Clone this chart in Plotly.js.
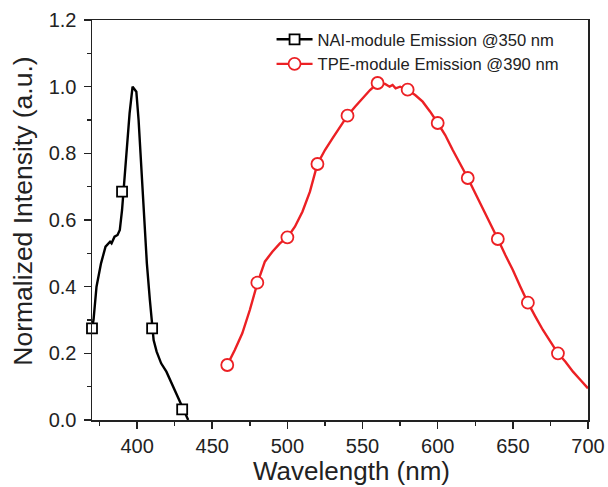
<!DOCTYPE html>
<html>
<head>
<meta charset="utf-8">
<script src="https://cdn.plot.ly/plotly-3.0.1.min.js"></script>
<style>html,body{margin:0;padding:0;background:#fff;}#chart{width:608px;height:487px;}</style>
</head>
<body>
<div id="chart"></div>
<script>
// NAI-module emission (excited @350 nm)
const naiWavelength = [370, 371, 373, 376, 379, 382, 383, 385, 387, 388.5, 390, 391, 393, 395, 397, 398, 399.5, 401, 403, 405, 406.5, 408.5, 410, 411, 413, 416, 419.5, 422, 424, 426, 427.5, 429, 430, 431.5, 433, 434];
const naiIntensity  = [0.275, 0.30, 0.40, 0.47, 0.52, 0.535, 0.53, 0.55, 0.555, 0.57, 0.63, 0.685, 0.80, 0.92, 1.0, 0.995, 0.985, 0.90, 0.75, 0.58, 0.47, 0.36, 0.275, 0.24, 0.205, 0.17, 0.145, 0.12, 0.10, 0.08, 0.065, 0.05, 0.035, 0.02, 0.008, 0.0];
const naiMarkerWl = [370, 390, 410, 430];
const naiMarkerInt = [0.275, 0.685, 0.275, 0.032];

// TPE-module emission (excited @390 nm)
const tpeWavelength = [460, 465, 470, 475, 480, 485, 490, 495, 500, 505, 510, 515, 520, 525, 530, 535, 540, 545, 550, 555, 560, 565, 568, 570, 572, 575, 580, 585, 590, 595, 600, 605, 610, 615, 620, 625, 630, 635, 640, 645, 650, 655, 660, 665, 670, 675, 680, 685, 690, 695, 700];
const tpeIntensity  = [0.165, 0.21, 0.26, 0.33, 0.41, 0.475, 0.505, 0.53, 0.548, 0.58, 0.625, 0.685, 0.768, 0.81, 0.845, 0.88, 0.913, 0.94, 0.965, 0.99, 1.01, 1.008, 1.0, 1.005, 0.995, 1.0, 0.99, 0.975, 0.955, 0.925, 0.891, 0.855, 0.81, 0.77, 0.726, 0.68, 0.635, 0.59, 0.543, 0.495, 0.45, 0.40, 0.352, 0.31, 0.27, 0.235, 0.20, 0.175, 0.145, 0.12, 0.095];
const tpeMarkerWl = [460, 480, 500, 520, 540, 560, 580, 600, 620, 640, 660, 680];
const tpeMarkerInt = [0.165, 0.412, 0.548, 0.768, 0.913, 1.011, 0.991, 0.891, 0.726, 0.543, 0.352, 0.2];

const seriesNames = ['NAI-module Emission @350 nm', 'TPE-module Emission @390 nm'];
const xTitle = 'Wavelength (nm)';
const yTitle = 'Normalized Intensity (a.u.)';
const xTicks = [400, 450, 500, 550, 600, 650, 700];
const yTicks = [0.0, 0.2, 0.4, 0.6, 0.8, 1.0, 1.2];

const black = '#000000', red = '#ec2024';
const traces = [
  {x: naiWavelength, y: naiIntensity, mode: 'lines', line: {color: black, width: 2.4}, showlegend: false, hoverinfo: 'skip'},
  {x: naiMarkerWl, y: naiMarkerInt, mode: 'markers', marker: {symbol: 'square', size: 10, color: '#fff', line: {color: black, width: 1.8}}, showlegend: false, cliponaxis: false},
  {x: tpeWavelength, y: tpeIntensity, mode: 'lines', line: {color: red, width: 2.4}, showlegend: false, hoverinfo: 'skip'},
  {x: tpeMarkerWl, y: tpeMarkerInt, mode: 'markers', marker: {symbol: 'circle', size: 12, color: '#fff', line: {color: red, width: 1.8}}, showlegend: false, cliponaxis: false},
  {x: [null], y: [null], name: seriesNames[0], mode: 'lines+markers', line: {color: black, width: 2.4}, marker: {symbol: 'square', size: 10, color: '#fff', line: {color: black, width: 1.8}}},
  {x: [null], y: [null], name: seriesNames[1], mode: 'lines+markers', line: {color: red, width: 2.4}, marker: {symbol: 'circle', size: 12, color: '#fff', line: {color: red, width: 1.8}}}
];

const font = {family: 'Liberation Sans, Arial, sans-serif', color: '#222'};
const layout = {
  width: 608, height: 487,
  margin: {l: 92, r: 20, t: 20, b: 67},
  paper_bgcolor: '#fff', plot_bgcolor: '#fff',
  font: font,
  showlegend: true,
  legend: {x: 0.362, y: 0.995, xanchor: 'left', yanchor: 'top', itemwidth: 36, bgcolor: 'rgba(0,0,0,0)', font: {family: font.family, size: 16.6, color: '#222'}, tracegroupgap: 0},
  xaxis: {
    range: [370, 700], tickvals: xTicks, ticktext: xTicks.map(String),
    ticks: 'outside', ticklen: 7, tickwidth: 1.5, tickcolor: '#222',
    minor: {ticks: 'outside', ticklen: 4, tickwidth: 1.5, tickcolor: '#222', tickvals: [375, 425, 475, 525, 575, 625, 675]},
    showline: true, linecolor: '#222', linewidth: 1.5, mirror: true,
    showgrid: false, zeroline: false,
    tickfont: {family: font.family, size: 20, color: '#222'}
  },
  yaxis: {
    range: [0, 1.2], tickvals: yTicks, ticktext: yTicks.map(v => v.toFixed(1)),
    ticks: 'outside', ticklen: 7, tickwidth: 1.5, tickcolor: '#222', ticklabelstandoff: 3,
    minor: {ticks: 'outside', ticklen: 4, tickwidth: 1.5, tickcolor: '#222', tickvals: [0.1, 0.3, 0.5, 0.7, 0.9, 1.1]},
    showline: true, linecolor: '#222', linewidth: 1.5, mirror: true,
    showgrid: false, zeroline: false,
    tickfont: {family: font.family, size: 20, color: '#222'}
  },
  annotations: [
    {text: xTitle, xref: 'paper', yref: 'paper', x: 0.523, y: -0.127, xanchor: 'center', yanchor: 'middle', showarrow: false, font: {family: font.family, size: 26, color: '#222'}},
    {text: yTitle, xref: 'paper', yref: 'paper', x: -0.139, y: 0.521, xanchor: 'center', yanchor: 'middle', textangle: -90, showarrow: false, font: {family: font.family, size: 26.5, color: '#222'}}
  ]
};
Plotly.newPlot('chart', traces, layout, {displayModeBar: false, staticPlot: true});
</script>
</body>
</html>
